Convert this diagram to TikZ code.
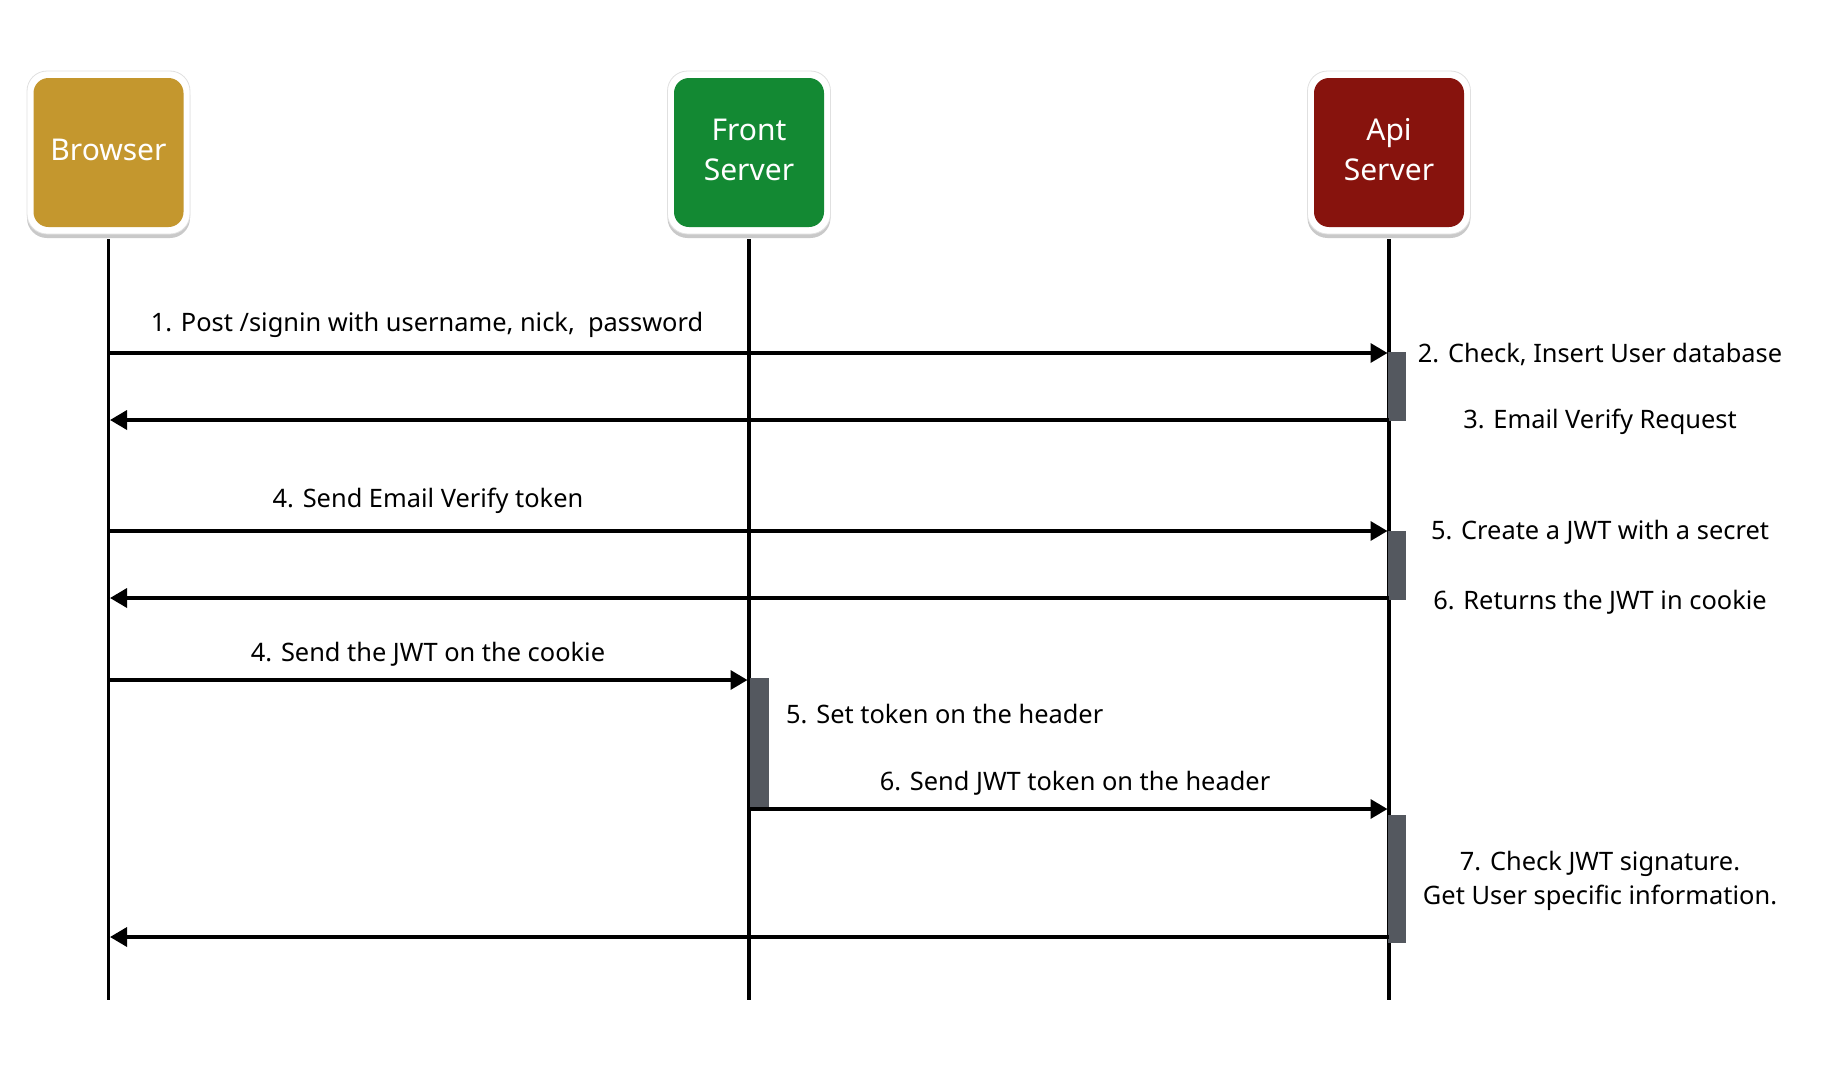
\documentclass[tikz,border=0pt]{standalone}
\usepackage{fontspec}
\setmainfont{Noto Sans}
\usetikzlibrary{arrows.meta,shadows}
\definecolor{goldbox}{HTML}{C4972E}
\definecolor{greenbox}{HTML}{138933}
\definecolor{redbox}{HTML}{87130D}
\definecolor{barcol}{HTML}{54585F}
\begin{document}
\begin{tikzpicture}[x=1pt,y=-1pt,
  outerbox/.style={draw=black!12, line width=0.8pt, fill=white, rounded corners=20pt,
    minimum width=163pt, minimum height=163pt, inner sep=0pt,
    drop shadow={shadow xshift=0pt, shadow yshift=-4pt, opacity=0.3, fill=black!70}},
  innerbox/.style={rounded corners=15pt, minimum width=150pt, minimum height=149pt, inner sep=0pt},
  boxtext/.style={text=white, font=\fontsize{30}{36}\selectfont, anchor=base, inner sep=0pt},
  lifeline/.style={line width=3.5pt},
  msg/.style={line width=3.5pt, -{Triangle[length=17pt,width=19pt]}, shorten >=1.5pt},
  lbl/.style={font=\fontsize{25.4}{30}\selectfont, anchor=base, inner sep=0pt},
  actbar/.style={fill=barcol}
]
\useasboundingbox (0,0) rectangle (1836,1084);

% participants
\node[outerbox] (browserOuter) at (108.5,152.5) {};
\node[innerbox, fill=goldbox] (browser) at (108.5,152.5) {};
\node[boxtext] (browserT) at (108.5,160) {Browser};

\node[outerbox] (frontOuter) at (749,152.5) {};
\node[innerbox, fill=greenbox] (front) at (749,152.5) {};
\node[boxtext] (frontT1) at (749,140) {Front};
\node[boxtext] (frontT2) at (749,180) {Server};

\node[outerbox] (apiOuter) at (1389,152.5) {};
\node[innerbox, fill=redbox] (api) at (1389,152.5) {};
\node[boxtext] (apiT1) at (1389,140) {Api};
\node[boxtext] (apiT2) at (1389,180) {Server};

% lifeline ends
\coordinate (bottom) at (0,1000);
\draw[lifeline] (browserOuter.south) ++(0,5) -- (browserOuter |- bottom);
\draw[lifeline] (frontOuter.south) ++(0,5) -- (frontOuter |- bottom);
\draw[lifeline] (apiOuter.south) ++(0,5) -- (apiOuter |- bottom);

% message levels
\coordinate (m1) at (0,353);
\coordinate (m2) at (0,420);
\coordinate (m3) at (0,531);
\coordinate (m4) at (0,598);
\coordinate (m5) at (0,680);
\coordinate (m6) at (0,809);
\coordinate (m7) at (0,937);

% activation bars
\fill[actbar] (1388,352) rectangle (1406,421);
\fill[actbar] (1388,531) rectangle (1406,600);
\fill[actbar] (750,678) rectangle (769,807);
\fill[actbar] (1388,815) rectangle (1406,943);

% messages
\draw[msg] (browserOuter |- m1) -- (apiOuter |- m1);
\draw[msg] (apiOuter |- m2) -- (browserOuter |- m2);
\draw[msg] (browserOuter |- m3) -- (apiOuter |- m3);
\draw[msg] (apiOuter |- m4) -- (browserOuter |- m4);
\draw[msg] (browserOuter |- m5) -- (frontOuter |- m5);
\draw[msg] (frontOuter |- m6) -- (apiOuter |- m6);
\draw[msg] (apiOuter |- m7) -- (browserOuter |- m7);

% labels on arrows
\node[lbl] (l1) at (427,331) {1. Post /signin with username, nick,\ \ password};
\node[lbl] (l4) at (428,507) {4. Send Email Verify token};
\node[lbl] (l4b) at (428,661) {4. Send the JWT on the cookie};
\node[lbl, anchor=base west] (l5b) at (786,723) {5. Set token on the header};
\node[lbl] (l6b) at (1075,790) {6. Send JWT token on the header};

% right side notes
\node[lbl] (r2) at (1600,362.5) {2. Check, Insert User database};
\node[lbl] (r3) at (1600,428) {3. Email Verify Request};
\node[lbl] (r5) at (1600,539) {5. Create a JWT with a secret};
\node[lbl] (r6) at (1600,609) {6. Returns the JWT in cookie};
\node[lbl] (r7a) at (1600,870) {7. Check JWT signature.};
\node[lbl] (r7b) at (1600,904) {Get User specific information.};
\end{tikzpicture}
\end{document}
